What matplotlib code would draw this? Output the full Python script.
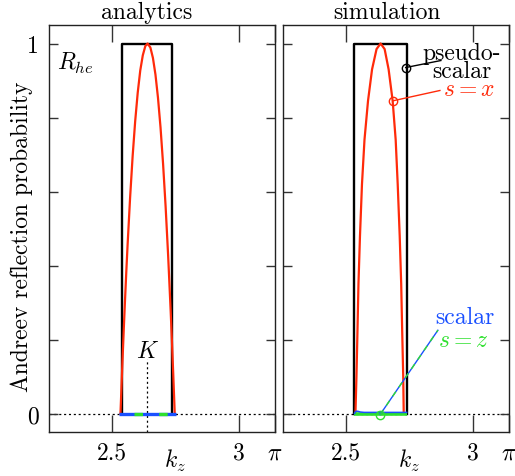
import numpy as np
import matplotlib
matplotlib.use("Agg")
import matplotlib.pyplot as plt
from matplotlib.ticker import FixedLocator

plt.rcParams['font.family'] = ['cmr10', 'DejaVu Serif']
plt.rcParams['mathtext.fontset'] = 'cm'
plt.rcParams['axes.formatter.use_mathtext'] = True
plt.rcParams['lines.scale_dashes'] = False

FS = 17

# ---- data ----
titles = ["analytics", "simulation"]
xticks = [2.5, 3.0, np.pi]
xticklabels = ["2.5", "3", r"$\pi$"]
yticks = [0, 0.2, 0.4, 0.6, 0.8, 1.0]
yticklabels = ["0", "", "", "", "", "1"]

# pseudo-scalar (black step)
ana_black_k = [2.5385, 2.5385, 2.734, 2.734]
ana_black_R = [0.0, 1.0, 1.0, 0.0]
sim_black_k = [2.532, 2.532, 2.738, 2.738]
sim_black_R = [0.0, 1.0, 1.0, 0.0]

# s = x (red)
ana_red_k = [2.532, 2.535, 2.540, 2.545, 2.550, 2.555, 2.560, 2.570, 2.580, 2.590,
             2.600, 2.610, 2.620, 2.630, 2.639, 2.650, 2.660, 2.670, 2.680, 2.690,
             2.700, 2.710, 2.720, 2.730, 2.735, 2.740, 2.746]
ana_red_R = [0.000, 0.055, 0.144, 0.228, 0.308, 0.384, 0.455, 0.584, 0.696, 0.790,
             0.867, 0.927, 0.968, 0.993, 1.000, 0.989, 0.961, 0.916, 0.853, 0.773,
             0.675, 0.560, 0.427, 0.277, 0.195, 0.109, 0.000]
sim_red_k = [2.5358, 2.5398, 2.5437, 2.5477, 2.5537, 2.5616, 2.5715, 2.5854, 2.6013,
             2.6191, 2.6350, 2.6509, 2.6667, 2.6826, 2.6945, 2.7025, 2.7104, 2.7163,
             2.7203, 2.7243, 2.7263]
sim_red_R = [0.00, 0.10, 0.22, 0.35, 0.48, 0.62, 0.74, 0.845, 0.93,
             0.985, 1.00, 0.985, 0.93, 0.845, 0.74, 0.62, 0.48, 0.35,
             0.22, 0.10, 0.00]

# scalar (blue) and s = z (green)
ana_zero_k = [2.528, 2.750]
ana_zero_R = [0.0, 0.0]
sim_blue_k = [2.532, 2.537, 2.545, 2.555, 2.570, 2.600, 2.650, 2.700, 2.738]
sim_blue_R = [0.000, 0.006, 0.006, 0.004, 0.003, 0.003, 0.003, 0.003, 0.003]
sim_green_k = [2.532, 2.738]
sim_green_R = [0.0, 0.0]

K_pos = 2.637

RED = '#ff2a0a'
BLUE = '#1a50ff'
GREEN = '#2ee02e'

fig = plt.figure(figsize=(5.15, 4.77), dpi=100)
axL = fig.add_axes([49/515, 1-433/477, 226/515, 407/477])
axR = fig.add_axes([283/515, 1-433/477, 226/515, 407/477])

title_x = [0.434, 0.458]
for ax, t, tx in zip([axL, axR], titles, title_x):
    ax.set_xlim(2.25, np.pi)
    ax.set_ylim(-0.05, 1.05)
    ax.text(tx, 1.018, t, fontsize=FS, ha='center', va='baseline', transform=ax.transAxes)
    ax.xaxis.set_major_locator(FixedLocator(xticks))
    ax.set_xticklabels(xticklabels, fontsize=FS)
    ax.yaxis.set_major_locator(FixedLocator(yticks))
    ax.tick_params(axis='x', which='both', direction='in', length=12.5, width=1.0,
                   top=True, bottom=True, pad=7, color='#333333')
    ax.tick_params(axis='y', which='both', direction='in', length=6.5, width=1.0,
                   left=True, right=True, pad=7, color='#333333')
    for s in ax.spines.values():
        s.set_linewidth(1.0)
        s.set_color('#222222')
    ax.axhline(0, color='black', lw=0.9, ls=(0, (1.5, 2.0)), zorder=1)
    ax.text(0.558, -0.037, r"$k_z$", fontsize=FS, ha='center', va='top',
            transform=ax.transAxes)

axL.set_yticklabels(yticklabels, fontsize=FS)
axR.set_yticklabels([])
fig.text(22/515, 1-237/477, "Andreev reflection probability", fontsize=FS,
         rotation=90, ha='center', va='center')

# ---- analytics panel ----
axL.plot(ana_black_k, ana_black_R, color='black', lw=1.7, zorder=3)
axL.plot(ana_red_k, ana_red_R, color=RED, lw=1.6, zorder=4)
axL.plot(ana_zero_k, ana_zero_R, color=BLUE, lw=2.4, zorder=5, solid_capstyle='butt')
axL.plot(ana_zero_k, ana_zero_R, color=GREEN, lw=2.4, zorder=6,
         ls=(7.0, (6.1, 11.7)), dash_capstyle='butt')
axL.plot([K_pos, K_pos], [-0.05, 0.146], color='black', lw=0.9, ls=(0, (1.5, 2.0)), zorder=2)
axL.text(K_pos, 0.17, r"$K$", fontsize=FS, ha='center', va='center')
axL.text(2.28, 0.948, r"$R_{he}$", fontsize=FS, ha='left', va='center')

# ---- simulation panel ----
axR.plot(sim_black_k, sim_black_R, color='black', lw=1.7, zorder=3)
axR.plot(sim_red_k, sim_red_R, color=RED, lw=1.6, zorder=4)
axR.plot(sim_green_k, sim_green_R, color=GREEN, lw=2.6, zorder=5, solid_capstyle='butt')
axR.plot(sim_blue_k, sim_blue_R, color=BLUE, lw=1.1, zorder=6)

# annotations
ann_ps = (2.734, 0.935)
axR.plot(*ann_ps, marker='o', ms=6, mfc='none', mec='black', mew=1.0, zorder=7)
axR.plot([ann_ps[0], 2.873], [ann_ps[1], 0.954], color='black', lw=1.0, zorder=7)
axR.text(2.8016, 0.959, "pseudo-", fontsize=FS, ha='left', va='baseline')
axR.text(2.837, 0.909, "scalar", fontsize=FS, ha='left', va='baseline')

ann_sx = (2.683, 0.845)
axR.plot(*ann_sx, marker='o', ms=6, mfc='none', mec=RED, mew=1.0, zorder=7)
axR.plot([ann_sx[0], 2.869], [ann_sx[1], 0.873], color=RED, lw=1.0, zorder=7)
axR.text(2.881, 0.862, r"$s=x$", fontsize=FS, ha='left', va='baseline', color=RED)

ann_sc = (2.633, -0.003)
axR.plot(*ann_sc, marker='o', ms=6, mfc='none', mec=GREEN, mew=1.0, zorder=7)
axR.plot([ann_sc[0], 2.861], [ann_sc[1], 0.225], color=BLUE, lw=1.0, zorder=7)
axR.plot([ann_sc[0], 2.861], [ann_sc[1], 0.225], color=GREEN, lw=1.0, zorder=8,
         ls=(0, (4, 4)))
axR.text(2.849, 0.244, "scalar", fontsize=FS, ha='left', va='baseline', color=BLUE)
axR.text(2.861, 0.182, r"$s=z$", fontsize=FS, ha='left', va='baseline', color=GREEN)

fig.savefig("out.png", dpi=100)
